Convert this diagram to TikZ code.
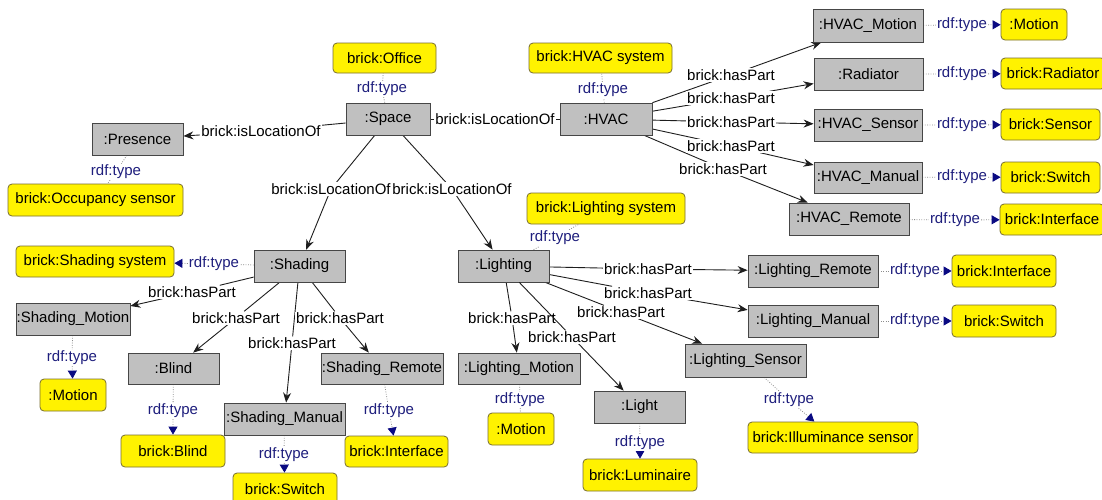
\documentclass[tikz,border=0pt]{standalone}
\usepackage{fontspec}
\setmainfont{Liberation Sans}
\usetikzlibrary{arrows.meta}
\pgfdeclarelayer{bg}
\pgfsetlayers{bg,main}
\definecolor{boxgray}{RGB}{192,192,192}
\definecolor{boxline}{RGB}{70,70,70}
\definecolor{yelline}{RGB}{120,110,50}
\definecolor{navytext}{RGB}{30,30,125}
\definecolor{tipnavy}{RGB}{10,10,130}
\definecolor{edgecol}{RGB}{30,30,30}
\definecolor{dotcol}{RGB}{140,140,140}
\begin{document}
\begin{tikzpicture}[x=1pt,y=-1pt,
  every node/.style={font=\fontsize{15}{18}\selectfont},
  inst/.style={draw=boxline, fill=boxgray, line width=0.8pt, inner sep=0pt, minimum height=32pt},
  cls/.style={draw=yelline, fill=yellow, rounded corners=4pt, line width=0.8pt, inner sep=0pt, minimum height=31pt},
  lbl/.style={fill=white, inner sep=1pt, text=black},
  tlbl/.style={fill=white, inner sep=1pt, text=navytext},
  rel/.style={draw=edgecol, line width=0.9pt},
  relarrow/.style={rel, -{Stealth[length=10pt,width=8pt]}},
  typ/.style={draw=dotcol, line width=0.8pt, dash pattern=on 0.8pt off 1.6pt},
  typarrow/.style={typ, -{Triangle[length=8pt,width=9pt,color=tipnavy]}},
]
\useasboundingbox (0,0) rectangle (1102,499);
\begin{pgfonlayer}{bg}
\fill[white] (0,0) rectangle (1102,499);
\end{pgfonlayer}

% ---- instance nodes (gray)
\node[inst, minimum width=91pt] (presence) at (137.5,139) {:Presence};
\node[inst, minimum width=84pt] (space) at (388,119) {:Space};
\node[inst, minimum width=92pt] (hvac) at (606,119) {:HVAC};
\node[inst, minimum width=110pt, minimum height=33pt] (hvacmotion) at (868,25.5) {:HVAC\_Motion};
\node[inst, minimum width=109pt] (radiator) at (868.5,74) {:Radiator};
\node[inst, minimum width=108pt] (hvacsensor) at (868,125) {:HVAC\_Sensor};
\node[inst, minimum width=108pt, minimum height=31pt] (hvacmanual) at (868,177.5) {:HVAC\_Manual};
\node[inst, minimum width=120pt] (hvacremote) at (849,219) {:HVAC\_Remote};
\node[inst, minimum width=91pt] (shading) at (299.5,266) {:Shading};
\node[inst, minimum width=114pt] (shmotion) at (73,319) {:Shading\_Motion};
\node[inst, minimum width=91pt, minimum height=31pt] (blind) at (173.5,368.5) {:Blind};
\node[inst, minimum width=121pt] (shmanual) at (284.5,419) {:Shading\_Manual};
\node[inst, minimum width=122pt, minimum height=31pt] (shremote) at (382,368.5) {:Shading\_Remote};
\node[inst, minimum width=91pt] (lighting) at (503.5,266) {:Lighting};
\node[inst, minimum width=130pt] (liremote) at (813,271) {:Lighting\_Remote};
\node[inst, minimum width=130pt] (limanual) at (813,321) {:Lighting\_Manual};
\node[inst, minimum width=121pt, minimum height=33pt] (lisensor) at (745.5,360.5) {:Lighting\_Sensor};
\node[inst, minimum width=122pt, minimum height=31pt] (limotion) at (519,368.5) {:Lighting\_Motion};
\node[inst, minimum width=91pt] (light) at (639.5,407) {:Light};

% ---- class nodes (yellow)
\node[cls, minimum width=103pt, minimum height=30pt] (office) at (384.5,58) {brick:Office};
\node[cls, minimum width=143pt, minimum height=30pt] (hvacsys) at (600.5,58) {brick:HVAC system};
\node[cls, minimum width=175pt, minimum height=32pt] (occ) at (95.5,200) {brick:Occupancy sensor};
\node[cls, minimum width=66pt] (motiona) at (1034,24.5) {:Motion};
\node[cls, minimum width=104pt] (radcls) at (1053,73.5) {brick:Radiator};
\node[cls, minimum width=99pt] (sensorcls) at (1050.5,124.5) {brick:Sensor};
\node[cls, minimum width=99pt] (switcha) at (1050.5,177.5) {brick:Switch};
\node[cls, minimum width=104pt] (ifacea) at (1052,219.5) {brick:Interface};
\node[cls, minimum width=158pt] (lightsys) at (606,208.5) {brick:Lighting system};
\node[cls, minimum width=66pt, minimum height=32pt] (motionb) at (521,429) {:Motion};
\node[cls, minimum width=114pt, minimum height=32pt] (luminaire) at (640,475) {brick:Luminaire};
\node[cls, minimum width=170pt] (illum) at (833,437.5) {brick:Illuminance sensor};
\node[cls, minimum width=104pt, minimum height=32pt] (ifaceb) at (1004,271) {brick:Interface};
\node[cls, minimum width=104pt, minimum height=32pt] (switchb) at (1004,321) {brick:Switch};
\node[cls, minimum width=158pt] (shsys) at (95,261.5) {brick:Shading system};
\node[cls, minimum width=66pt, minimum height=32pt] (motionc) at (73,395) {:Motion};
\node[cls, minimum width=104pt, minimum height=32pt] (blindcls) at (173,451) {brick:Blind};
\node[cls, minimum width=104pt, minimum height=32pt] (switchc) at (285,489) {brick:Switch};
\node[cls, minimum width=103pt] (ifacec) at (396.5,451.5) {brick:Interface};

% ---- relation labels
\node[lbl] (lsp) at (261,131) {brick:isLocationOf};
\node[lbl] (lsh) at (495,119) {brick:isLocationOf};
\node[lbl] (lssh) at (331,189) {brick:isLocationOf};
\node[lbl] (lsli) at (452,189) {brick:isLocationOf};
\node[lbl] (ha) at (731,75) {brick:hasPart};
\node[lbl] (hb) at (731,98) {brick:hasPart};
\node[lbl] (hc) at (731,122) {brick:hasPart};
\node[lbl] (hd) at (731,146) {brick:hasPart};
\node[lbl] (he) at (723,169) {brick:hasPart};
\node[lbl] (sa) at (192,292) {brick:hasPart};
\node[lbl] (sb) at (236,318) {brick:hasPart};
\node[lbl] (sc) at (292,343) {brick:hasPart};
\node[lbl] (sd) at (340,318) {brick:hasPart};
\node[lbl] (la) at (648,269) {brick:hasPart};
\node[lbl] (lb) at (648,293) {brick:hasPart};
\node[lbl] (lc) at (621,312) {brick:hasPart};
\node[lbl] (ld) at (512,318) {brick:hasPart};
\node[lbl] (le) at (572,337) {brick:hasPart};

% ---- rdf:type labels
\node[tlbl] (toff) at (382,89) {rdf:type};
\node[tlbl] (thv) at (603,90) {rdf:type};
\node[tlbl] (tpr) at (116,172) {rdf:type};
\node[tlbl] (tha) at (962,25) {rdf:type};
\node[tlbl] (thb) at (962,74) {rdf:type};
\node[tlbl] (thc) at (962,125) {rdf:type};
\node[tlbl] (thd) at (962,177) {rdf:type};
\node[tlbl] (the) at (955,220) {rdf:type};
\node[tlbl] (tss) at (214,264) {rdf:type};
\node[tlbl] (tsm) at (72,358) {rdf:type};
\node[tlbl] (tsb) at (173,411) {rdf:type};
\node[tlbl] (tsn) at (284,455) {rdf:type};
\node[tlbl] (tsr) at (389,411) {rdf:type};
\node[tlbl] (tls) at (555,238) {rdf:type};
\node[tlbl] (tlm) at (520,400) {rdf:type};
\node[tlbl] (tll) at (640,443) {rdf:type};
\node[tlbl] (tln) at (789,400) {rdf:type};
\node[tlbl] (tlr) at (915,271) {rdf:type};
\node[tlbl] (tlo) at (915,321) {rdf:type};

\begin{pgfonlayer}{bg}
% isLocationOf
\draw[relarrow] (space) -- (lsp) -- (presence);
\draw[rel] (space) -- (lsh) -- (hvac);
\draw[relarrow] (space) -- (lssh) -- (shading);
\draw[relarrow] (space) -- (lsli) -- (lighting);
% HVAC parts
\draw[relarrow] (hvac) -- (ha) -- (hvacmotion);
\draw[relarrow] (hvac) -- (hb) -- (radiator);
\draw[relarrow] (hvac) -- (hc) -- (hvacsensor);
\draw[relarrow] (hvac) -- (hd) -- (hvacmanual);
\draw[relarrow] (hvac) -- (he) -- (hvacremote);
% Shading parts
\draw[relarrow] (shading) -- (sa) -- (shmotion);
\draw[relarrow] (shading) -- (sb) -- (blind);
\draw[relarrow] (shading) -- (sc) -- (shmanual);
\draw[relarrow] (shading) -- (sd) -- (shremote);
% Lighting parts
\draw[relarrow] (lighting) -- (la) -- (liremote);
\draw[relarrow] (lighting) -- (lb) -- (limanual);
\draw[relarrow] (lighting) -- (lc) -- (lisensor);
\draw[relarrow] (lighting) -- (ld) -- (limotion);
\draw[relarrow] (le) -- (light);
% rdf:type
\draw[typ] (space) -- (toff) -- (office);
\draw[typ] (hvac) -- (thv) -- (hvacsys);
\draw[typ] (presence) -- (tpr) -- (occ);
\draw[typarrow] (hvacmotion) -- (tha) -- (motiona);
\draw[typarrow] (radiator) -- (thb) -- (radcls);
\draw[typarrow] (hvacsensor) -- (thc) -- (sensorcls);
\draw[typarrow] (hvacmanual) -- (thd) -- (switcha);
\draw[typarrow] (hvacremote) -- (the) -- (ifacea);
\draw[typarrow] (shading) -- (tss) -- (shsys);
\draw[typarrow] (shmotion) -- (tsm) -- (motionc);
\draw[typarrow] (blind) -- (tsb) -- (blindcls);
\draw[typarrow] (shmanual) -- (tsn) -- (switchc);
\draw[typarrow] (shremote) -- (tsr) -- (ifacec);
\draw[typ] (lighting) -- (tls) -- (lightsys);
\draw[typ] (limotion) -- (tlm) -- (motionb);
\draw[typarrow] (light) -- (tll) -- (luminaire);
\draw[typarrow] (lisensor) -- (tln) -- (illum);
\draw[typarrow] (liremote) -- (tlr) -- (ifaceb);
\draw[typarrow] (limanual) -- (tlo) -- (switchb);
\end{pgfonlayer}
% edge crossing over a label, drawn on top
\draw[rel] (lighting) -- (le);
\end{tikzpicture}
\end{document}
